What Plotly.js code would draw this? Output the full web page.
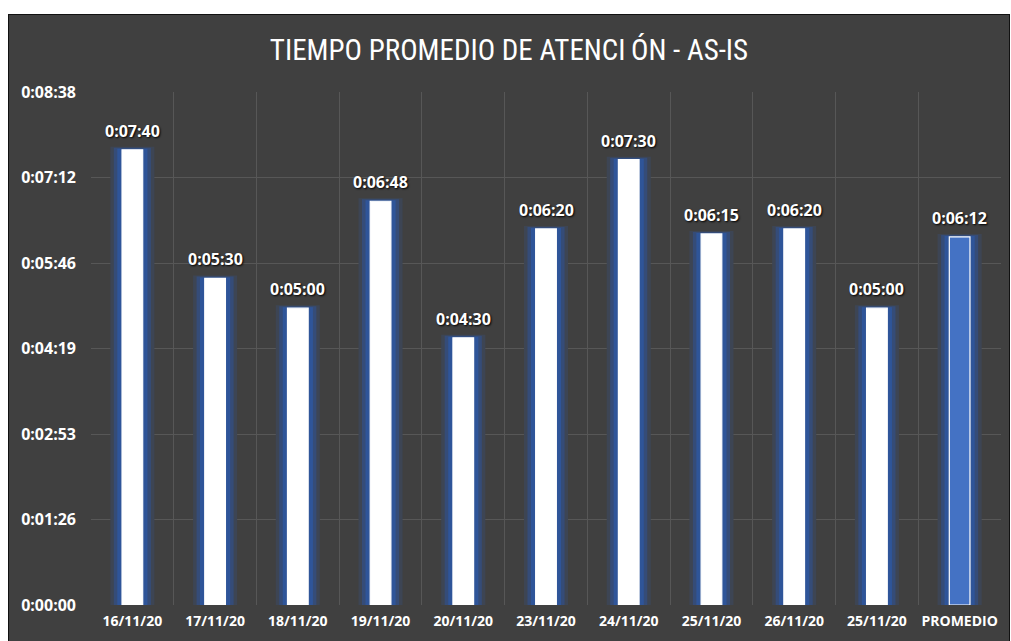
<!DOCTYPE html>
<html>
<head>
<meta charset="utf-8">
<script src="https://cdn.plot.ly/plotly-3.0.1.min.js"></script>
<style>
  html, body { margin: 0; padding: 0; background: #ffffff; width: 1011px; height: 641px; overflow: hidden; }
  #frame { position: absolute; left: 8px; top: 14px; width: 1000px; height: 627px;
           border-left: 1px solid #111; border-top: 1px solid #111; border-right: 1px solid #111; background: #404040; }
  #chart { width: 1000px; height: 627px; }
</style>
</head>
<body>
<div id="frame"><div id="chart"></div></div>
<script>
// Categories (dates) and average attention time in seconds
const categories = ["16/11/20","17/11/20","18/11/20","19/11/20","20/11/20","23/11/20","24/11/20","25/11/20 ","26/11/20","25/11/20","PROMEDIO"];
const tickLabels = ["16/11/20","17/11/20","18/11/20","19/11/20","20/11/20","23/11/20","24/11/20","25/11/20","26/11/20","25/11/20","PROMEDIO"];
const seconds = [460, 330, 300, 408, 270, 380, 450, 375, 380, 300, 372];
const yTickValues = [0, 86.4, 172.8, 259.2, 345.6, 432, 518.4];
const yTickLabels = ["0:00:00","0:01:26","0:02:53","0:04:19","0:05:46","0:07:12","0:08:38"];

function fmt(s) {
  s = Math.round(s);
  const h = Math.floor(s / 3600), m = Math.floor((s % 3600) / 60), sec = s % 60;
  return h + ":" + String(m).padStart(2, "0") + ":" + String(sec).padStart(2, "0");
}

const isAvg = categories.map(c => c === "PROMEDIO");
const fillColors = isAvg.map(a => a ? "#4472C4" : "#FFFFFF");

const glowOuter = {
  type: "bar", x: categories, y: seconds, width: 0.46,
  marker: { color: "#3D4554", line: { color: "#3D4554", width: 6 } },
  hoverinfo: "skip", showlegend: false
};
const glowMid = {
  type: "bar", x: categories, y: seconds, width: 0.40,
  marker: { color: "#354C78", line: { color: "#354C78", width: 4 } },
  hoverinfo: "skip", showlegend: false
};
const glowInner = {
  type: "bar", x: categories, y: seconds, width: 0.34,
  marker: { color: "#2F5599", line: { color: "#2F5599", width: 2 } },
  hoverinfo: "skip", showlegend: false
};
const main = {
  type: "bar", x: categories, y: seconds, width: 0.25,
  marker: { color: fillColors, line: { color: "#FFFFFF", width: 1.2 } },
  showlegend: false
};

const labelAnnotations = categories.map((c, i) => ({
  x: c, y: seconds[i], xref: "x", yref: "y",
  text: fmt(seconds[i]), showarrow: false,
  yanchor: "bottom", yshift: 6,
  font: { color: "#FFFFFF", size: 16, family: "Open Sans, Roboto, sans-serif", weight: "bold", shadow: "1px 1px 2px #000000" }
}));

const layout = {
  width: 1000, height: 627,
  paper_bgcolor: "#404040", plot_bgcolor: "#404040",
  margin: { l: 82, r: 8, t: 77, b: 37 },
  barmode: "overlay",
  title: {
    text: "TIEMPO PROMEDIO DE ATENCI\u2009ÓN - AS-IS",
    font: { color: "#FFFFFF", size: 29, family: "Liberation Sans Narrow, Roboto Condensed, Open Sans, sans-serif" },
    x: 0.5, xanchor: "center", xref: "container",
    y: 0.944, yanchor: "middle", yref: "container"
  },
  annotations: labelAnnotations,
  xaxis: {
    type: "category", tickson: "boundaries",
    tickvals: categories, ticktext: tickLabels, tickangle: 0,
    showgrid: true, gridcolor: "#575757", gridwidth: 1,
    ticks: "", showline: false, zeroline: false, ticklabelstandoff: 6,
    tickfont: { color: "#FFFFFF", size: 14, family: "Open Sans, Roboto, sans-serif", weight: "bold" },
    range: [-0.5, 10.5]
  },
  yaxis: {
    range: [0, 518.4], tickmode: "array", tickvals: yTickValues, ticktext: yTickLabels,
    showgrid: true, gridcolor: "#575757", gridwidth: 1, zeroline: false, showline: false,
    ticks: "", ticklabelstandoff: 14,
    tickfont: { color: "#FFFFFF", size: 16, family: "Liberation Sans Narrow, Open Sans, sans-serif", weight: "bold" }
  }
};

Plotly.newPlot("chart", [glowOuter, glowMid, glowInner, main], layout, { displayModeBar: false, staticPlot: true });
</script>
</body>
</html>
